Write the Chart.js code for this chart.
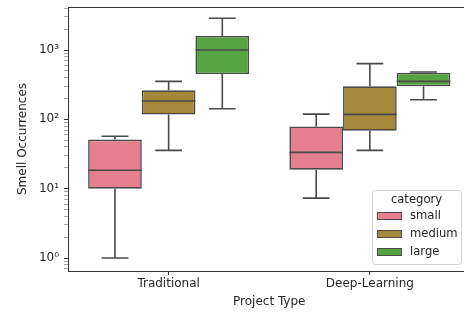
<!DOCTYPE html>
<html>
<head>
<meta charset="utf-8">
<script src="https://cdn.jsdelivr.net/npm/chart.js@4"></script>
<style>
  html, body { margin: 0; padding: 0; background: #fff; overflow: hidden; }
  #wrap { width: 472px; height: 312px; position: relative; }
</style>
</head>
<body>
<div id="wrap"><canvas id="boxChart"></canvas></div>
<script>
// box plot values (log axis)
const projectTypes = ['Traditional', 'Deep-Learning'];
const categories = ['small', 'medium', 'large'];
const colors = ['#e57f8f', '#a6883b', '#56a441'];

// per category: [Traditional, Deep-Learning]
const whiskerLow = { small: [1.0, 7.3], medium: [35.7, 35.7], large: [142, 192] };
const q1 = { small: [10, 18.8], medium: [117, 68.7], large: [451, 299] };
const median = { small: [18.4, 33.4], medium: [184, 118], large: [1000, 353] };
const q3 = { small: [51, 79], medium: [262, 299], large: [1592, 471] };
const whiskerHigh = { small: [57, 119], medium: [353, 636], large: [2864, 482] };

const majorTicks = [1, 10, 100, 1000];
const majorLabels = ['10⁰', '10¹', '10²', '10³'];

const edge = '#4a4a4a';
const font = { family: 'DejaVu Sans', size: 12 };

// log ticks 0.7 ... 4000, labels only on decades
function logTicks(min, max) {
  const out = [];
  for (let e = -1; e <= 3; e++) {
    for (let m = 1; m <= 9; m++) {
      const v = m * Math.pow(10, e);
      if (v >= min && v <= max) out.push({ value: v });
    }
  }
  return out;
}

const whiskerPlugin = {
  id: 'whiskers',
  afterDatasetsDraw(chart) {
    const ctx = chart.ctx;
    const y = chart.scales.y;
    ctx.save();
    ctx.strokeStyle = edge;
    ctx.lineWidth = 1.6;
    categories.forEach((cat, i) => {
      const meta = chart.getDatasetMeta(i);
      meta.data.forEach((bar, j) => {
        const x = bar.x;
        const half = bar.width / 2;
        const cap = bar.width / 4;
        const yLo = y.getPixelForValue(whiskerLow[cat][j]);
        const yQ1 = y.getPixelForValue(q1[cat][j]);
        const yMed = y.getPixelForValue(median[cat][j]);
        const yQ3 = y.getPixelForValue(q3[cat][j]);
        const yHi = y.getPixelForValue(whiskerHigh[cat][j]);
        ctx.beginPath();
        ctx.moveTo(x, yQ1); ctx.lineTo(x, yLo);
        ctx.moveTo(x - cap, yLo); ctx.lineTo(x + cap, yLo);
        ctx.moveTo(x, yQ3); ctx.lineTo(x, yHi);
        ctx.moveTo(x - cap, yHi); ctx.lineTo(x + cap, yHi);
        ctx.moveTo(x - half, yMed); ctx.lineTo(x + half, yMed);
        ctx.stroke();
      });
    });
    ctx.restore();
  },
  afterDraw(chart) {
    const ctx = chart.ctx;
    const a = chart.chartArea;
    ctx.save();
    // top spine
    ctx.strokeStyle = '#333';
    ctx.lineWidth = 1;
    ctx.beginPath();
    ctx.moveTo(a.left, a.top + 0.5);
    ctx.lineTo(a.right, a.top + 0.5);
    ctx.stroke();

    // legend, lower right
    const lx = 372, ly = 190, lw = 89, lh = 74;
    ctx.fillStyle = 'rgba(255,255,255,0.8)';
    ctx.strokeStyle = '#d0d0d0';
    ctx.beginPath();
    ctx.roundRect(lx + 0.5, ly + 0.5, lw, lh, 3);
    ctx.fill();
    ctx.stroke();
    ctx.font = '11.6px "DejaVu Sans"';
    ctx.fillStyle = '#262626';
    ctx.textAlign = 'center';
    ctx.textBaseline = 'middle';
    ctx.fillText('category', lx + lw / 2, ly + 10);
    ctx.textAlign = 'left';
    categories.forEach((cat, i) => {
      const cy = ly + 26 + i * 18;
      ctx.fillStyle = colors[i];
      ctx.fillRect(377, cy - 4, 25, 8);
      ctx.strokeStyle = edge;
      ctx.lineWidth = 1;
      ctx.strokeRect(377.5, cy - 3.5, 24, 7);
      ctx.fillStyle = '#262626';
      ctx.fillText(cat, 410, cy);
    });
    ctx.restore();
  }
};

new Chart(document.getElementById('boxChart'), {
  type: 'bar',
  data: {
    labels: projectTypes,
    datasets: categories.map((cat, i) => ({
      label: cat,
      data: projectTypes.map((_, j) => [q1[cat][j], q3[cat][j]]),
      backgroundColor: colors[i],
      borderColor: edge,
      borderWidth: 1.6,
      borderSkipped: false,
      barPercentage: 1.0,
      categoryPercentage: 0.8
    }))
  },
  options: {
    responsive: true,
    maintainAspectRatio: false,
    animation: false,
    layout: { padding: { left: 0, top: 7, right: 1.5, bottom: 0 } },
    scales: {
      x: {
        grid: { display: true, drawOnChartArea: false, offset: false, tickLength: 4, tickColor: '#333' },
        border: { display: true, color: '#333', width: 1 },
        ticks: { font: font, color: '#262626', padding: 2 },
        title: { display: true, text: 'Project Type', font: font, color: '#262626', padding: { top: 0, bottom: 3 } },
        afterFit(scale) {
          scale.height = 41;
          scale.paddingLeft = 0;
          scale.paddingRight = 0;
        }
      },
      y: {
        type: 'logarithmic',
        min: 0.65,
        max: 4170,
        afterBuildTicks(scale) { scale.ticks = logTicks(scale.min, scale.max); },
        grid: {
          display: true,
          drawOnChartArea: false,
          tickLength: 4,
          tickColor: c => majorTicks.includes(c.tick.value) ? '#333' : '#666',
          tickWidth: c => majorTicks.includes(c.tick.value) ? 1 : 0.6
        },
        border: { display: true, color: '#333', width: 1 },
        ticks: {
          autoSkip: false,
          font: font,
          color: '#262626',
          padding: 5,
          callback: v => {
            const k = majorTicks.indexOf(v);
            return k >= 0 ? majorLabels[k] : '';
          }
        },
        title: { display: true, text: 'Smell Occurrences', font: font, color: '#262626', padding: { top: 16, bottom: 0 } },
        afterFit(scale) {
          scale.width = 68;
          scale.paddingTop = 0;
          scale.paddingBottom = 0;
        }
      }
    },
    plugins: {
      legend: { display: false },
      tooltip: { enabled: false }
    }
  },
  plugins: [whiskerPlugin]
});
</script>
</body>
</html>
